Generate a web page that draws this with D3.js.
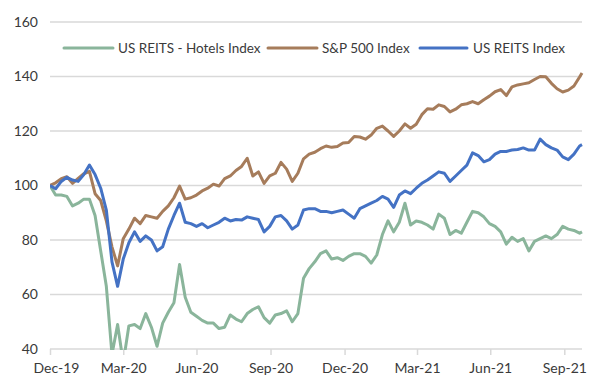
<!DOCTYPE html>
<html>
<head>
<meta charset="utf-8">
<script src="https://cdn.jsdelivr.net/npm/d3@7"></script>
<style>
  body { margin: 0; background: #fff; }
  text { font-family: Lato, "Open Sans", sans-serif; fill: #3a3a3a; }
</style>
</head>
<body>
<div id="chart"></div>
<script>
// weekly closes, rebased to 100 at 31 Dec 2019 (last point = 22 Oct 2021)
var startDate = '2019-12-31';
var endDate = '2021-10-22';

var seriesNames = ['US REITS - Hotels Index', 'S&P 500 Index', 'US REITS Index'];
var seriesColors = ['#8ab59b', '#a67c5b', '#4472c4'];

var hotels = [100, 96.5, 96.5, 96, 92.5, 93.5, 95, 95, 89, 76,
  63, 38, 49, 35, 48.5, 49, 47.5, 53, 48, 41,
  49.5, 53.5, 57, 71, 59, 53.5, 52, 50.5, 49.5, 49.5,
  47.5, 48, 52.5, 51, 50, 53, 54.5, 55.5, 51.5, 49.5,
  52.5, 53, 54, 50, 53, 66, 69.5, 72, 75, 76,
  73, 73.5, 72.5, 74, 75, 75, 74, 71.5, 74.5, 82,
  87, 83, 86.5, 93.5, 85.5, 87, 86.5, 85.5, 84, 89.5,
  88, 82, 83.5, 82.5, 86.5, 90.5, 90, 88.5, 86, 85,
  83, 78.5, 81, 79.5, 80.5, 76, 79.5, 80.5, 81.5, 80.5,
  82, 85, 84, 83.5, 82.5, 83];

var sp500 = [100, 101, 102.5, 103.2, 100.8, 102.6, 104.3, 105.2, 97, 94.5,
  87, 77.5, 70.5, 80.5, 84, 88, 86, 89, 88.5, 88,
  90.5, 92.5, 95.5, 99.8, 95, 95.5, 96.5, 98, 99, 100.5,
  99.8, 102.5, 103.5, 105.5, 107, 110, 103.5, 105, 100.8, 103.5,
  104.5, 108.5, 106, 101.5, 104.5, 109.8, 111.5, 112.2, 113.5, 114.5,
  114, 114.3, 115.6, 115.8, 118, 117.8, 117, 118.5, 121, 121.8,
  120, 118, 120, 122.6, 121, 122.5, 126, 128.2, 128, 129.6,
  129, 127, 128, 129.6, 130, 130.8, 130, 131.5, 132.8, 134.4,
  135.2, 133, 136.2, 136.9, 137.3, 137.7, 138.9, 140, 139.9, 137.5,
  135.5, 134.3, 135, 136.5, 139.8, 141.3];

var reits = [100, 98.8, 101.5, 103, 102, 101.5, 104, 107.5, 104, 99,
  91, 72, 63, 73, 79, 83, 79.5, 81.5, 80, 76,
  77.5, 84, 89, 93.5, 86.5, 86, 85, 86, 84.5, 85.5,
  86.5, 88, 87, 87.5, 87.3, 88.5, 88, 87.5, 83, 85,
  88.5, 89, 87, 84, 85.5, 91, 91.5, 91.5, 90.5, 90.5,
  90, 90.5, 91, 89.5, 88, 91.5, 92.5, 93.5, 94.5, 96,
  95, 92, 96.5, 98, 97, 99, 100.8, 102, 103.5, 105,
  104.5, 101.5, 103.5, 105.5, 107.5, 112, 111, 108.7, 109.5, 111.5,
  112.5, 112.5, 113, 113.2, 113.8, 113, 113, 117, 115, 113.8,
  113, 110.5, 109.5, 111.5, 114.5, 115];

var yTicks = [40, 60, 80, 100, 120, 140, 160];
var xTickDates = ['2019-12-31', '2020-03-31', '2020-06-30', '2020-09-30',
  '2020-12-31', '2021-03-31', '2021-06-30', '2021-09-30'];
var xTickLabels = ['Dec-19', 'Mar-20', 'Jun-20', 'Sep-20', 'Dec-20', 'Mar-21', 'Jun-21', 'Sep-21'];

var W = 600, H = 389;
var plotL = 50, plotR = 582, plotT = 22, plotB = 349;

var parse = d3.timeParse('%Y-%m-%d');
var t0 = parse(startDate), t1 = parse(endDate);

// weekly dates, last one is the final trading day shown
var dates = hotels.map((d, i) => i < hotels.length - 1 ? d3.timeDay.offset(t0, 7 * i) : t1);

var x = d3.scaleTime().domain([t0, t1]).range([plotL, plotR]);
var y = d3.scaleLinear().domain([40, 160]).range([plotB, plotT]);

var svg = d3.select('#chart').append('svg')
  .attr('width', W)
  .attr('height', H);

// gridlines
svg.append('g')
  .selectAll('line')
  .data(yTicks)
  .enter()
  .append('line')
  .attr('x1', plotL)
  .attr('x2', plotR)
  .attr('y1', d => y(d))
  .attr('y2', d => y(d))
  .attr('stroke', '#d9d9d9')
  .attr('stroke-width', 1.5);

// y axis labels
var yAxis = d3.axisLeft(y).tickValues(yTicks).tickSize(0).tickPadding(12);
svg.append('g')
  .attr('transform', 'translate(' + plotL + ',0)')
  .call(yAxis)
  .call(g => g.select('.domain').remove())
  .selectAll('text')
  .style('font-size', '14px')
  .style('fill', '#3a3a3a');

// x axis
var xAxis = d3.axisBottom(x)
  .tickValues(xTickDates.map(parse))
  .tickFormat((d, i) => xTickLabels[i])
  .tickSize(6)
  .tickPadding(8);

var gx = svg.append('g')
  .attr('transform', 'translate(0,' + plotB + ')')
  .call(xAxis);
gx.select('.domain').remove();
gx.selectAll('line').attr('stroke', '#d9d9d9').attr('stroke-width', 1.5);
gx.selectAll('text')
  .style('font-size', '14px')
  .style('fill', '#3a3a3a')
  .attr('dx', (d, i) => i === 0 ? 6 : 0);

// lines
svg.append('clipPath')
  .attr('id', 'plot')
  .append('rect')
  .attr('x', plotL)
  .attr('y', 0)
  .attr('width', plotR - plotL + 4)
  .attr('height', plotB + 1);

var line = d3.line()
  .x((d, i) => x(dates[i]))
  .y(d => y(d));

var allSeries = [hotels, sp500, reits];

svg.append('g')
  .attr('clip-path', 'url(#plot)')
  .selectAll('path')
  .data(allSeries)
  .enter()
  .append('path')
  .attr('d', d => line(d))
  .attr('fill', 'none')
  .attr('stroke', (d, i) => seriesColors[i])
  .attr('stroke-width', 3)
  .attr('stroke-linejoin', 'round');

// legend
var legendItems = [
  { x1: 64, x2: 113, tx: 118 },
  { x1: 268, x2: 317, tx: 322 },
  { x1: 420, x2: 467, tx: 473 }
];
var legendY = 48;

var legend = svg.append('g');
legend.selectAll('line')
  .data(legendItems)
  .enter()
  .append('line')
  .attr('x1', d => d.x1)
  .attr('x2', d => d.x2)
  .attr('y1', legendY)
  .attr('y2', legendY)
  .attr('stroke', (d, i) => seriesColors[i])
  .attr('stroke-width', 3)
  .attr('stroke-linecap', 'round');

legend.selectAll('text')
  .data(legendItems)
  .enter()
  .append('text')
  .attr('x', d => d.tx)
  .attr('y', legendY)
  .attr('dy', '0.35em')
  .style('font-size', '13.5px')
  .text((d, i) => seriesNames[i]);
</script>
</body>
</html>
